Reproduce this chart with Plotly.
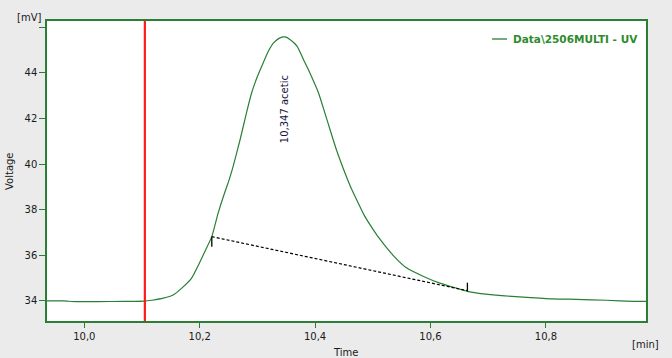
import plotly.graph_objects as go

# ---- data ----
time_min = [9.9354, 9.963, 9.9856, 10.022, 10.0705, 10.105, 10.117, 10.137, 10.154, 10.169,
            10.186, 10.198, 10.209, 10.221, 10.232, 10.244, 10.251, 10.258, 10.270, 10.281,
            10.290, 10.299, 10.310, 10.319, 10.328, 10.339, 10.348, 10.357, 10.369, 10.380,
            10.391, 10.406, 10.417, 10.426, 10.437, 10.452, 10.463, 10.472, 10.486, 10.501,
            10.512, 10.536, 10.559, 10.588, 10.616, 10.645, 10.666, 10.692, 10.729, 10.767,
            10.813, 10.853, 10.905, 10.951, 10.9735]
voltage_mv = [34.00, 34.00, 33.97, 33.97, 33.98, 33.99, 34.03, 34.12, 34.26, 34.56,
              35.00, 35.58, 36.17, 36.82, 37.85, 38.80, 39.31, 39.90, 41.07, 42.24,
              43.12, 43.78, 44.44, 44.95, 45.32, 45.54, 45.58, 45.46, 45.17, 44.58,
              44.00, 43.12, 42.24, 41.51, 40.63, 39.60, 38.92, 38.44, 37.72, 37.12,
              36.72, 35.98, 35.44, 35.07, 34.78, 34.56, 34.41, 34.31, 34.22, 34.16,
              34.09, 34.07, 34.03, 33.98, 33.98]
series_name = "Data\\2506MULTI - UV"

baseline_x = [10.221, 10.664]
baseline_y = [36.82, 34.45]
start_tick_y = [36.82, 36.38]
end_tick_y = [34.41, 34.80]

marker_time = 10.105
peak_time = 10.347
peak_label = "10,347 acetic"
peak_label_y = 42.39

x_range = [9.9354, 10.9735]
y_range = [33.12, 46.28]
x_ticks = [10.0, 10.2, 10.4, 10.6, 10.8]
x_tick_labels = ["10,0", "10,2", "10,4", "10,6", "10,8"]
y_ticks = [34, 36, 38, 40, 42, 44, 46]
y_tick_labels = ["34", "36", "38", "40", "42", "44", ""]

GREEN = "#2a7f35"
FONT = "DejaVu Sans"
TXT = "#1a1a1a"

W, H = 672, 358
L, R, T, B = 47, 26, 21, 37
pw, ph = W - L - R, H - T - B


def px_x(px):
    return (px - L) / pw


def px_y(py):
    return (H - B - py) / ph


fig = go.Figure()
fig.add_trace(go.Scatter(x=time_min, y=voltage_mv, mode="lines", name=series_name,
                         line=dict(color=GREEN, width=1.2, shape="spline", smoothing=0.5),
                         showlegend=False))
fig.add_trace(go.Scatter(x=baseline_x, y=baseline_y, mode="lines",
                         line=dict(color="black", width=1.2, dash="3px,2px"), showlegend=False))
fig.add_trace(go.Scatter(x=[baseline_x[0], baseline_x[0]], y=start_tick_y, mode="lines",
                         line=dict(color="black", width=1.3), showlegend=False))
fig.add_trace(go.Scatter(x=[baseline_x[1], baseline_x[1]], y=end_tick_y, mode="lines",
                         line=dict(color="black", width=1.3), showlegend=False))

fig.add_shape(type="line", xref="x", yref="paper", x0=marker_time, x1=marker_time, y0=0, y1=1,
              line=dict(color="#ff1a1a", width=2.2))

fig.add_annotation(x=peak_time, y=peak_label_y, xref="x", yref="y", text=peak_label,
                   textangle=-90, showarrow=False, xanchor="center", yanchor="middle",
                   font=dict(family=FONT, size=10, color="#14143c"))

# legend (drawn manually)
fig.add_shape(type="line", xref="paper", yref="paper", x0=px_x(492), x1=px_x(507),
              y0=px_y(39), y1=px_y(39), line=dict(color=GREEN, width=1.3))
fig.add_annotation(x=px_x(511), y=px_y(39), xref="paper", yref="paper",
                   text="<b>" + series_name + "</b>", showarrow=False, xanchor="left", yanchor="middle",
                   font=dict(family=FONT, size=10.5, color="#2e8b2e"))

# axis titles / units
for txt, x, y, ang in [("Voltage", 9, 171, -90), ("Time", 345, 352, 0),
                       ("[min]", 645, 344, 0), ("[mV]", 29, 18, 0)]:
    fig.add_annotation(x=px_x(x), y=px_y(y), xref="paper", yref="paper", text=txt, showarrow=False,
                       xanchor="center", yanchor="middle",
                       textangle=ang, font=dict(family=FONT, size=10, color=TXT))

fig.update_layout(
    width=W, height=H,
    margin=dict(l=L, r=R, t=T, b=B),
    paper_bgcolor="#ebebeb", plot_bgcolor="white",
    separators=",.",
    font=dict(family=FONT, size=10, color=TXT),
    xaxis=dict(range=x_range, tickvals=x_ticks, ticktext=x_tick_labels, showgrid=False, zeroline=False,
               showline=True, linecolor=GREEN, linewidth=1.5, mirror=True, ticks="outside",
               ticklen=5, tickcolor=GREEN, tickfont=dict(family=FONT, size=10, color=TXT)),
    yaxis=dict(range=y_range, tickvals=y_ticks, ticktext=y_tick_labels, showgrid=False, zeroline=False,
               showline=True, linecolor=GREEN, linewidth=1.5, mirror=True, ticks="outside",
               ticklen=6, tickcolor=GREEN, tickfont=dict(family=FONT, size=10, color=TXT)),
)

fig.write_html("out.html", config={"displayModeBar": False},
               post_script="document.body.style.margin='0';document.body.style.background='#ebebeb';")
